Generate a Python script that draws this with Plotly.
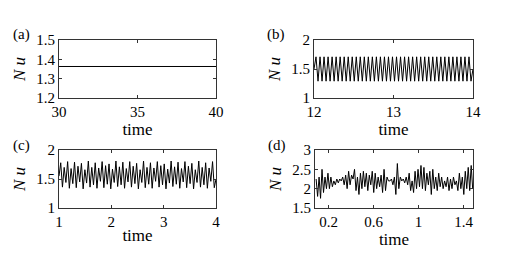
import numpy as np
import plotly.graph_objects as go

# ---------------- data ----------------
# (a) steady Nu
a_time = [30, 40]
a_nu = [1.363, 1.363]

# (b) periodic oscillation: alternating peak / trough values, 12 -> 14
b_nu = [1.50,
        1.71, 1.29, 1.71, 1.29, 1.71, 1.29, 1.71, 1.29, 1.71, 1.29,
        1.71, 1.29, 1.71, 1.29, 1.71, 1.29, 1.71, 1.29, 1.71, 1.29,
        1.71, 1.29, 1.71, 1.29, 1.71, 1.29, 1.71, 1.29, 1.71, 1.29,
        1.71, 1.29, 1.71, 1.29, 1.71, 1.29, 1.71, 1.29, 1.71, 1.29,
        1.71, 1.29, 1.71, 1.29, 1.71, 1.29, 1.71, 1.29, 1.71, 1.29,
        1.71, 1.29, 1.71, 1.29, 1.71, 1.29, 1.71, 1.29, 1.71, 1.29,
        1.71, 1.29, 1.71, 1.29, 1.71, 1.29, 1.71, 1.29, 1.71, 1.29,
        1.71, 1.29, 1.71, 1.29, 1.71, 1.29, 1.71, 1.29,
        1.50]
b_start, b_end = 12.0, 14.0

# (c) quasi-periodic oscillation, 1 -> 4
c_nu = [1.55,
        1.78, 1.36, 1.70, 1.44, 1.80, 1.34, 1.68, 1.42, 1.79, 1.35,
        1.72, 1.45, 1.77, 1.33, 1.66, 1.43, 1.81, 1.36, 1.70, 1.40,
        1.78, 1.34, 1.69, 1.46, 1.80, 1.35, 1.73, 1.41, 1.76, 1.33,
        1.67, 1.44, 1.81, 1.37, 1.71, 1.40, 1.79, 1.34, 1.68, 1.45,
        1.80, 1.36, 1.72, 1.42, 1.77, 1.33, 1.66, 1.44, 1.81, 1.35,
        1.70, 1.41, 1.78, 1.34, 1.69, 1.46, 1.80, 1.36, 1.73, 1.40,
        1.76, 1.33, 1.67, 1.43, 1.81, 1.37, 1.71, 1.41, 1.79, 1.34,
        1.68, 1.45, 1.80, 1.35, 1.72, 1.42, 1.77, 1.33, 1.66, 1.44,
        1.81, 1.36, 1.70, 1.40, 1.78, 1.34, 1.69, 1.46, 1.80, 1.35,
        1.50]
c_start, c_end = 1.0, 4.0

# (d) chaotic Nu, 0.09 -> 1.48
d_nu = [2.25, 1.80, 2.30, 1.75, 2.50, 1.90, 2.30, 2.00, 2.40, 2.00,
        2.30, 2.05, 2.20, 2.10, 2.25, 2.15, 2.25, 2.20, 2.30, 2.10,
        2.35, 2.00, 2.45, 2.10, 2.35, 2.25, 2.50, 1.95, 2.30, 1.85,
        2.40, 2.00, 2.45, 2.05, 2.40, 1.95, 2.35, 2.10, 2.45, 1.90,
        2.40, 2.00, 2.30, 2.05, 2.35, 1.90, 2.50, 1.95, 2.30, 2.20,
        2.20, 2.25, 2.10, 2.30, 1.85, 2.65, 2.00, 2.30, 2.20, 2.25,
        2.15, 2.30, 2.10, 2.40, 1.95, 2.20, 1.90, 2.45, 2.00, 2.50,
        2.05, 2.60, 2.00, 2.55, 1.95, 2.40, 2.10, 2.45, 1.85, 2.50,
        2.00, 2.30, 1.95, 2.40, 2.05, 2.30, 2.00, 2.20, 2.05, 2.30,
        1.95, 2.25, 2.00, 2.30, 2.10, 2.20, 1.95, 2.40, 2.00, 2.30,
        1.85, 2.45, 2.00, 2.55, 1.95, 2.60, 2.00]
d_start, d_end = 0.09, 1.48

# ---------------- layout ----------------
FONT = "Liberation Serif"
W, H = 511, 257

def px_x(p):
    return p / W

def px_y(p):
    return 1 - p / H

panels = [
    dict(name="(a)", x=(59, 216), y=(40, 98), xr=[30, 40], yr=[1.2, 1.5],
         xt=[30, 35, 40], yt=[1.2, 1.3, 1.4, 1.5], xl=["30", "35", "40"], yl=["1.2", "1.3", "1.4", "1.5"]),
    dict(name="(b)", x=(314, 473), y=(40, 98), xr=[12, 14], yr=[1, 2],
         xt=[12, 13, 14], yt=[1, 1.5, 2], xl=["12", "13", "14"], yl=["1", "1.5", "2"]),
    dict(name="(c)", x=(59, 216), y=(150, 208), xr=[1, 4], yr=[1, 2],
         xt=[1, 2, 3, 4], yt=[1, 1.5, 2], xl=["1", "2", "3", "4"], yl=["1", "1.5", "2"]),
    dict(name="(d)", x=(315, 473), y=(150, 208), xr=[0.08, 1.483], yr=[1.5, 3],
         xt=[0.2, 0.6, 1.0, 1.4], yt=[1.5, 2, 2.5, 3], xl=["0.2", "0.6", "1", "1.4"], yl=["1.5", "2", "2.5", "3"]),
]

series = [
    (a_time, a_nu),
    (list(np.linspace(b_start, b_end, len(b_nu))), b_nu),
    (list(np.linspace(c_start, c_end, len(c_nu))), c_nu),
    (list(np.linspace(d_start, d_end, len(d_nu))), d_nu),
]

fig = go.Figure()
layout = dict(
    width=W, height=H, margin=dict(l=0, r=0, t=0, b=0),
    paper_bgcolor="white", plot_bgcolor="white", showlegend=False,
    font=dict(family=FONT, size=14, color="black"),
)
annotations = []
for i, (p, (xs, ys)) in enumerate(zip(panels, series)):
    k = "" if i == 0 else str(i + 1)
    fig.add_trace(go.Scatter(x=xs, y=ys, mode="lines", xaxis="x" + k, yaxis="y" + k,
                             line=dict(color="black", width=1), hoverinfo="skip"))
    axcommon = dict(showline=True, linecolor="#333", linewidth=1, mirror="ticks",
                    ticks="inside", ticklen=3, tickcolor="#333", showgrid=False,
                    zeroline=False, automargin=False,
                    tickfont=dict(family=FONT, size=15, color="black"))
    layout["xaxis" + k] = dict(domain=[px_x(p["x"][0]), px_x(p["x"][1])], range=p["xr"],
                               anchor="y" + k, tickvals=p["xt"], ticktext=p["xl"],
                               title=dict(text="time", font=dict(family=FONT, size=17, color="black"), standoff=0),
                               **axcommon)
    layout["yaxis" + k] = dict(domain=[px_y(p["y"][1]), px_y(p["y"][0])], range=p["yr"],
                               anchor="x" + k, tickvals=p["yt"], ticktext=p["yl"],
                               title=dict(text="<i>N u</i>", font=dict(family=FONT, size=17, color="black"), standoff=6),
                               **axcommon)
    annotations.append(dict(text=p["name"], x=px_x(p["x"][0] - 38), y=px_y(p["y"][0] - 5),
                            xref="paper", yref="paper", xanchor="center", yanchor="middle",
                            showarrow=False, font=dict(family=FONT, size=15, color="black")))
layout["annotations"] = annotations
fig.update_layout(**layout)
fig.write_html("out.html", config={"displayModeBar": False},
               post_script="document.body.style.margin='0';")
